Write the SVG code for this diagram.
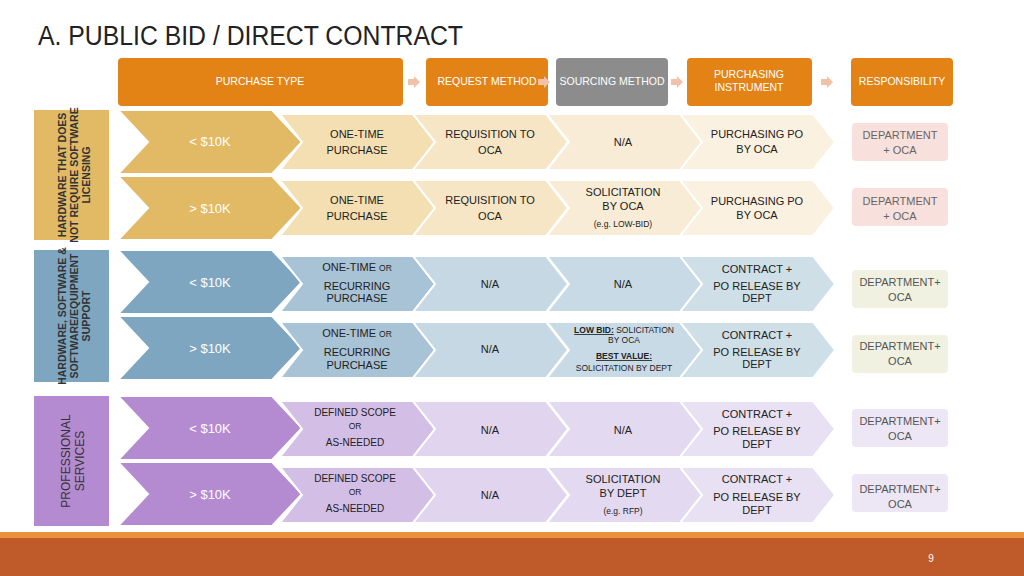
<svg xmlns="http://www.w3.org/2000/svg" width="1024" height="576" viewBox="0 0 1024 576">
<style>
text{font-family:"Liberation Sans",Arial,sans-serif;text-anchor:middle;font-size:11px;fill:#222}
.h{fill:#fff;font-size:10.5px}
.w{fill:#fff;font-size:13px}
.s{font-size:8.5px}
.side{font-size:10.5px;fill:#333;font-weight:bold}
.ch{stroke:#fff;stroke-width:2}
</style>
<defs>
<path id="big" d="M0,0 H154 L184,32 L154,64 H0 L30,32 Z"/>
<path id="sm" d="M0,0 H133 L155,28 L133,56 H0 L22,28 Z"/>
<path id="arr" d="M0,-3 H6 V-6 L12,0 L6,6 V3 H0 Z" fill="#f2c2a8"/>
</defs>
<rect width="1024" height="576" fill="#fff"/>
<text x="38" y="45" text-anchor="start" style="font-size:27px;fill:#222;text-anchor:start" textLength="425" lengthAdjust="spacingAndGlyphs">A.  PUBLIC BID / DIRECT CONTRACT</text>
<g id="header">
<rect x="118" y="58" width="285" height="48" rx="4" fill="#e38316"/><text class="h" x="260" y="85">PURCHASE TYPE</text>
<use href="#arr" x="408" y="82"/>
<rect x="426" y="58" width="122" height="48" rx="4" fill="#e38316"/><text class="h" x="487" y="85">REQUEST METHOD</text>
<use href="#arr" x="538" y="82"/>
<rect x="556" y="58" width="112" height="48" rx="4" fill="#8c8c8c"/><text class="h" x="612" y="85">SOURCING METHOD</text>
<use href="#arr" x="671" y="82"/>
<rect x="687" y="58" width="125" height="48" rx="4" fill="#e38316"/><text class="h" x="749" y="78">PURCHASING</text><text class="h" x="749" y="91">INSTRUMENT</text>
<use href="#arr" x="821" y="82"/>
<rect x="851" y="58" width="102" height="48" rx="4" fill="#e38316"/><text class="h" x="902" y="85">RESPONSIBILITY</text>
</g>
<g id="hw">
<rect x="34" y="110" width="75" height="130" fill="#e2b964"/>
<text class="side" transform="translate(66,175) rotate(-90)">HARDWARE THAT DOES</text>
<text class="side" transform="translate(78,175) rotate(-90)">NOT REQUIRE SOFTWARE</text>
<text class="side" transform="translate(90,175) rotate(-90)">LICENSING</text>
</g>
<g id="hws">
<rect x="34" y="250" width="75" height="132" fill="#7ea6c0"/>
<text class="side" transform="translate(66,316) rotate(-90)">HARDWARE, SOFTWARE &amp;</text>
<text class="side" transform="translate(78,316) rotate(-90)">SOFTWARE/EQUIPMENT</text>
<text class="side" transform="translate(90,316) rotate(-90)">SUPPORT</text>
</g>
<g id="ps">
<rect x="34" y="396" width="75" height="130" fill="#b48ad0"/>
<text class="side" transform="translate(70,461) rotate(-90)" style="font-size:12px;font-weight:normal">PROFESSIONAL</text>
<text class="side" transform="translate(84,461) rotate(-90)" style="font-size:12px;font-weight:normal">SERVICES</text>
</g>
<g id="row1">
<use href="#big" x="118" y="110" fill="#e2b964" class="ch"/><text class="w" x="210" y="146">&lt; $10K</text>
<use href="#sm" x="280" y="114" fill="#f3dfb2" class="ch"/><text x="357" y="138">ONE-TIME</text><text x="357" y="154">PURCHASE</text>
<use href="#sm" x="413" y="114" fill="#f6e6c6" class="ch"/><text x="490" y="138">REQUISITION TO</text><text x="490" y="154">OCA</text>
<use href="#sm" x="547" y="114" fill="#f8ecd6" class="ch"/><text x="623" y="146">N/A</text>
<use href="#sm" x="680" y="114" fill="#faf1e0" class="ch"/><text x="757" y="138">PURCHASING PO</text><text x="757" y="153">BY OCA</text>
<rect x="852" y="123" width="96" height="38" rx="4" fill="#f8e0dc"/><text x="900" y="139" style="fill:#666">DEPARTMENT</text><text x="900" y="154" style="fill:#666">+ OCA</text>
</g>
<g id="row2">
<use href="#big" x="118" y="176" fill="#e2b964" class="ch"/><text class="w" x="210" y="213">&gt; $10K</text>
<use href="#sm" x="280" y="180" fill="#f3dfb2" class="ch"/><text x="357" y="204">ONE-TIME</text><text x="357" y="220">PURCHASE</text>
<use href="#sm" x="413" y="180" fill="#f6e6c6" class="ch"/><text x="490" y="204">REQUISITION TO</text><text x="490" y="220">OCA</text>
<use href="#sm" x="547" y="180" fill="#f8ecd6" class="ch"/><text x="623" y="196">SOLICITATION</text><text x="623" y="210">BY OCA</text><text class="s" x="623" y="227">(e.g. LOW-BID)</text>
<use href="#sm" x="680" y="180" fill="#faf1e0" class="ch"/><text x="757" y="205">PURCHASING PO</text><text x="757" y="219">BY OCA</text>
<rect x="852" y="188" width="96" height="38" rx="4" fill="#f8e0dc"/><text x="900" y="205" style="fill:#666">DEPARTMENT</text><text x="900" y="220" style="fill:#666">+ OCA</text>
</g>
<g id="row3">
<use href="#big" x="118" y="250" fill="#7ea6c0" class="ch"/><text class="w" x="210" y="287">&lt; $10K</text>
<use href="#sm" x="280" y="256" fill="#a8c3d5" class="ch"/><text x="357" y="271">ONE-TIME <tspan class="s">OR</tspan></text><text x="357" y="290">RECURRING</text><text x="357" y="302">PURCHASE</text>
<use href="#sm" x="413" y="256" fill="#c5d8e3" class="ch"/><text x="490" y="288">N/A</text>
<use href="#sm" x="547" y="256" fill="#c8dae5" class="ch"/><text x="623" y="288">N/A</text>
<use href="#sm" x="680" y="256" fill="#cfdfe8" class="ch"/><text x="757" y="273">CONTRACT +</text><text x="757" y="290">PO RELEASE BY</text><text x="757" y="302">DEPT</text>
<rect x="852" y="270" width="96" height="38" rx="4" fill="#f1f1e2"/><text x="900" y="286" style="fill:#555">DEPARTMENT+</text><text x="900" y="301" style="fill:#555">OCA</text>
</g>
<g id="row4">
<use href="#big" x="118" y="316" fill="#7ea6c0" class="ch"/><text class="w" x="210" y="353">&gt; $10K</text>
<use href="#sm" x="280" y="322" fill="#a8c3d5" class="ch"/><text x="357" y="337">ONE-TIME <tspan class="s">OR</tspan></text><text x="357" y="356">RECURRING</text><text x="357" y="369">PURCHASE</text>
<use href="#sm" x="413" y="322" fill="#c5d8e3" class="ch"/><text x="490" y="353">N/A</text>
<use href="#sm" x="547" y="322" fill="#c8dae5" class="ch"/><text class="s" x="624" y="333"><tspan text-decoration="underline" font-weight="bold">LOW BID:</tspan> SOLICITATION</text><text class="s" x="624" y="343">BY OCA</text><text class="s" x="624" y="359" text-decoration="underline" font-weight="bold">BEST VALUE:</text><text class="s" x="624" y="371">SOLICITATION BY DEPT</text>
<use href="#sm" x="680" y="322" fill="#cfdfe8" class="ch"/><text x="757" y="339">CONTRACT +</text><text x="757" y="356">PO RELEASE BY</text><text x="757" y="368">DEPT</text>
<rect x="852" y="335" width="96" height="38" rx="4" fill="#f1f1e2"/><text x="900" y="350" style="fill:#555">DEPARTMENT+</text><text x="900" y="365" style="fill:#555">OCA</text>
</g>
<g id="row5">
<use href="#big" x="118" y="396" fill="#b48ad0" class="ch"/><text class="w" x="210" y="433">&lt; $10K</text>
<use href="#sm" x="280" y="401" fill="#d3bee6" class="ch"/><text x="355" y="416" style="font-size:10px">DEFINED SCOPE</text><text class="s" x="355" y="429">OR</text><text x="355" y="446" style="font-size:10px">AS-NEEDED</text>
<use href="#sm" x="413" y="401" fill="#e0d4ee" class="ch"/><text x="490" y="434">N/A</text>
<use href="#sm" x="547" y="401" fill="#e3d9f0" class="ch"/><text x="623" y="434">N/A</text>
<use href="#sm" x="680" y="401" fill="#e8e0f3" class="ch"/><text x="757" y="418">CONTRACT +</text><text x="757" y="435">PO RELEASE BY</text><text x="757" y="448">DEPT</text>
<rect x="852" y="409" width="96" height="38" rx="4" fill="#ede6f5"/><text x="900" y="425" style="fill:#555">DEPARTMENT+</text><text x="900" y="440" style="fill:#555">OCA</text>
</g>
<g id="row6">
<use href="#big" x="118" y="462" fill="#b48ad0" class="ch"/><text class="w" x="210" y="499">&gt; $10K</text>
<use href="#sm" x="280" y="467" fill="#d3bee6" class="ch"/><text x="355" y="482" style="font-size:10px">DEFINED SCOPE</text><text class="s" x="355" y="495">OR</text><text x="355" y="512" style="font-size:10px">AS-NEEDED</text>
<use href="#sm" x="413" y="467" fill="#e0d4ee" class="ch"/><text x="490" y="499">N/A</text>
<use href="#sm" x="547" y="467" fill="#e3d9f0" class="ch"/><text x="623" y="483">SOLICITATION</text><text x="623" y="497">BY DEPT</text><text class="s" x="623" y="514">(e.g. RFP)</text>
<use href="#sm" x="680" y="467" fill="#e8e0f3" class="ch"/><text x="757" y="483">CONTRACT +</text><text x="757" y="501">PO RELEASE BY</text><text x="757" y="514">DEPT</text>
<rect x="852" y="474" width="96" height="38" rx="4" fill="#ede6f5"/><text x="900" y="493" style="fill:#555">DEPARTMENT+</text><text x="900" y="508" style="fill:#555">OCA</text>
</g>
<rect x="0" y="532" width="1024" height="6" fill="#e8913a"/>
<rect x="0" y="538" width="1024" height="38" fill="#bf5a2a"/>
<text x="931" y="562" style="fill:#fff;font-size:10px">9</text>
</svg>
